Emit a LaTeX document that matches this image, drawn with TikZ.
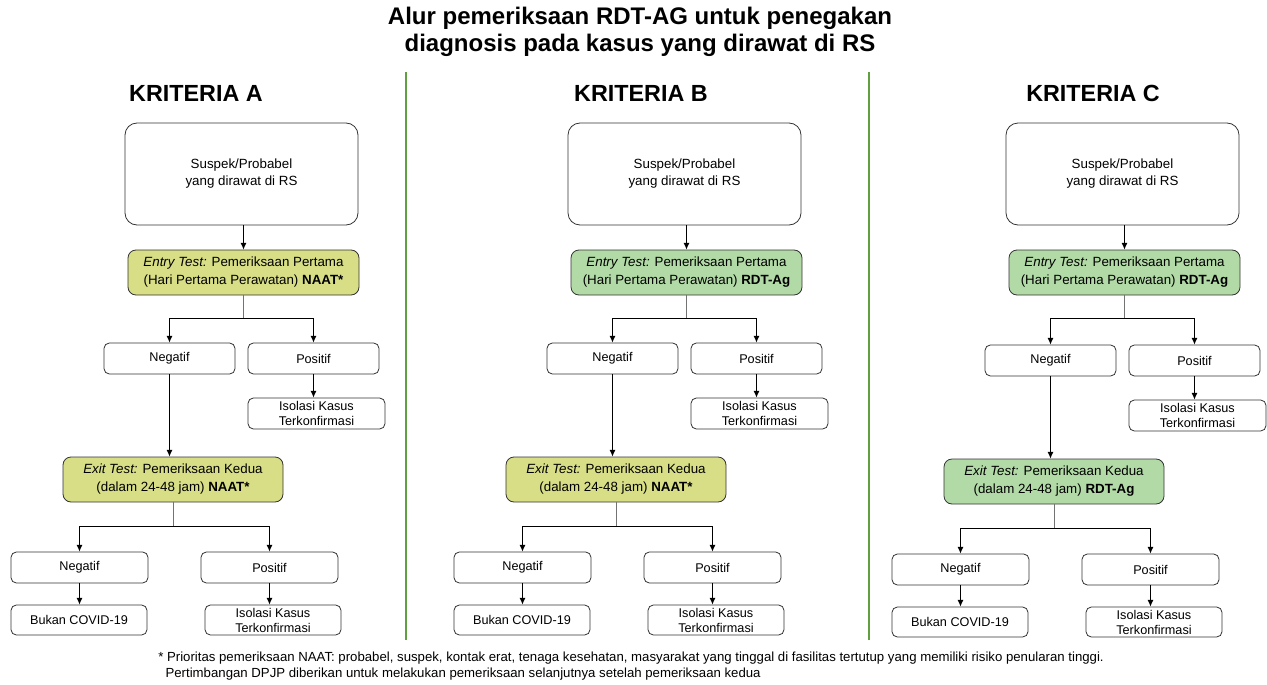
\documentclass[tikz,border=0pt]{standalone}
\usepackage{fontspec}
\setmainfont{Liberation Sans}
\usetikzlibrary{arrows.meta,positioning,calc}
\definecolor{naat}{RGB}{216,222,134}
\definecolor{rdt}{RGB}{178,218,166}
\definecolor{garis}{RGB}{96,160,64}
\begin{document}
\begin{tikzpicture}[x=0.75pt,y=-0.75pt,
    kotak/.style={draw=black!80, line width=0.6pt, rounded corners=4pt, align=center,
      inner sep=0pt, font=\fontsize{9.5}{11.25}\selectfont},
    kecil/.style={kotak, minimum width=98.25pt, minimum height=23.25pt},
    uji/.style={kotak, rounded corners=6pt, minimum height=33.75pt, font=\fontsize{10}{13.5}\selectfont},
    panah/.style={-{Latex[length=5pt,width=4.5pt]}, line width=0.75pt},
    batang/.style={line width=0.75pt, draw=black!55},
    pemisah/.style={draw=garis, line width=1.5pt},
    kriteria/.style={font=\fontsize{17.5}{20}\selectfont\bfseries},
    judul/.style={align=center, font=\fontsize{18}{20}\selectfont\bfseries},
    catatan/.style={align=left, anchor=west, inner sep=0pt, font=\fontsize{9.9}{12}\selectfont}]
  \useasboundingbox (0,0) rectangle (1267,685);
  \node[judul] (judul) at (640,32) {Alur pemeriksaan RDT-AG untuk penegakan\\diagnosis pada kasus yang dirawat di RS};
  \draw[pemisah] (406,72) -- (406,640);
  \draw[pemisah] (869,72) -- (869,640);
  \foreach \k/\kx/\dx/\dy/\wa/\ta/\wb/\tb in {A/196/0/0/naat/NAAT*/naat/NAAT*,
      B/641/443/0/rdt/RDT-Ag/naat/NAAT*, C/1093/881/2/rdt/RDT-Ag/rdt/RDT-Ag}{
    \node[kriteria] (krit\k) at (\kx,93) {KRITERIA \k};
    \node[kotak, rounded corners=9pt, minimum width=174.75pt, minimum height=76.5pt,
      font=\fontsize{10}{12.75}\selectfont]
      (suspek\k) at (241.5+\dx,174) {Suspek/Probabel\\yang dirawat di RS};
    \node[uji, fill=\wa, minimum width=173.25pt] (masuk\k) at (243.5+\dx,272.5)
      {\textit{Entry Test:} Pemeriksaan Pertama\\(Hari Pertama Perawatan) \textbf{\ta}};
    \node[kecil] (neg\k) at (169.5+\dx,358.5+\dy) {Negatif};
    \node[kecil] (pos\k) at (313.5+\dx,358.5+\dy) {Positif};
    \node[kecil, minimum width=102.75pt] (iso\k) at (316.5+\dx,413.5+\dy) {Isolasi Kasus\\Terkonfirmasi};
    \node[uji, fill=\wb, minimum width=165pt] (keluar\k) at (173+\dx,479.5+\dy)
      {\textit{Exit Test:} Pemeriksaan Kedua\\(dalam 24-48 jam) \textbf{\tb}};
    \node[kecil, minimum width=102.75pt] (negb\k) at (79.5+\dx,567.5+\dy) {Negatif};
    \node[kecil, minimum width=102.75pt] (posb\k) at (269.5+\dx,567.5+\dy) {Positif};
    \node[kecil, minimum width=102pt, minimum height=22.5pt] (bukan\k) at (79+\dx,620+\dy) {Bukan COVID-19};
    \node[kecil, minimum width=102pt, minimum height=22.5pt] (isob\k) at (273+\dx,620+\dy) {Isolasi Kasus\\Terkonfirmasi};
    % alur
    \draw[panah] (suspek\k.south -| masuk\k.north) -- (masuk\k.north);
    \draw[batang] (masuk\k.south) -- ++(0,23) coordinate (cab\k);
    \draw[panah] (cab\k) -| (neg\k.north);
    \draw[panah] (cab\k) -| (pos\k.north);
    \draw[panah] (pos\k.south) -- (pos\k.south |- iso\k.north);
    \draw[panah] (neg\k.south) -- (neg\k.south |- keluar\k.north);
    \draw[batang] (keluar\k.south) -- ++(0,24) coordinate (cabb\k);
    \draw[panah] (cabb\k) -| (negb\k.north);
    \draw[panah] (cabb\k) -| (posb\k.north);
    \draw[panah] (negb\k.south) -- (negb\k.south |- bukan\k.north);
    \draw[panah] (posb\k.south) -- (posb\k.south |- isob\k.north);
  }
  \node[catatan] (catatan) at (158,666) {* Prioritas pemeriksaan NAAT: probabel, suspek, kontak erat, tenaga kesehatan, masyarakat yang tinggal di fasilitas tertutup yang memiliki risiko penularan tinggi.\\
    \ \ Pertimbangan DPJP diberikan untuk melakukan pemeriksaan selanjutnya setelah pemeriksaan kedua};
\end{tikzpicture}
\end{document}
